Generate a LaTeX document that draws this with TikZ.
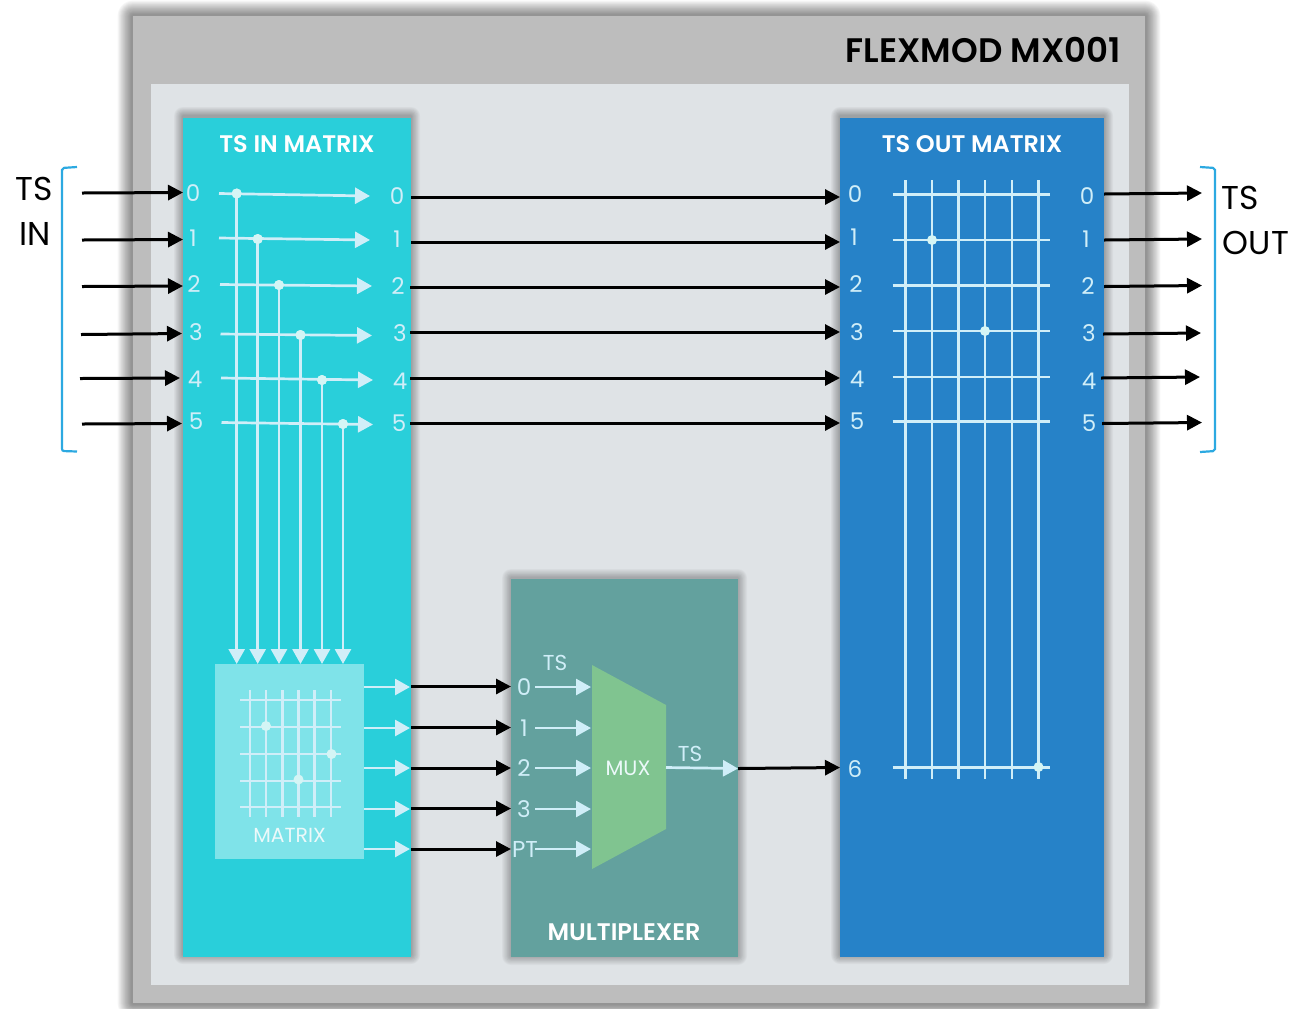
\documentclass[tikz,border=0pt]{standalone}
\usepackage{fontspec}
\setmainfont[BoldFont=Poppins SemiBold]{Poppins}
\usetikzlibrary{arrows.meta}
\definecolor{outerC}{HTML}{BDBDBD}
\definecolor{innerC}{HTML}{DFE3E6}
\definecolor{inC}{HTML}{29CFDA}
\definecolor{outC}{HTML}{2682C8}
\definecolor{muxC}{HTML}{63A19E}
\definecolor{trapC}{HTML}{80C490}
\definecolor{matC}{HTML}{7FE3E9}
\definecolor{paleC}{HTML}{D0EEF8}
\definecolor{dotC}{HTML}{D4F5F5}
\definecolor{brC}{HTML}{2CA9E1}
\definecolor{softW}{HTML}{ECF9FA}
% soft shadow: args x1,y1,x2,y2, layers, opacity, upward shift, base spread, step
\newcommand{\softbox}[9]{%
  \foreach \i in {1,...,#5}{
    \pgfmathsetmacro{\e}{#8+\i*#9}
    \fill[black,opacity=#6,rounded corners={\e*0.5pt}] ({#1-\e},{#2-\e-#7}) rectangle ({#3+\e},{#4+\e-#7});}}
\tikzset{
  palearrow/.style={draw=paleC,line width=1.35pt,-{Triangle[length=7.5pt,width=8pt]}},
  blackarrow/.style={draw=black,line width=1.5pt,-{Triangle[length=7.5pt,width=7.5pt]}},
  paleline/.style={draw=paleC,line width=1.25pt},
  dotmark/.style={circle,fill=dotC,inner sep=0pt,minimum size=5pt},
  numlabel/.style={text=paleC,font=\fontsize{11.5}{11.5}\selectfont,inner sep=0pt},
  smalllabel/.style={text=paleC,font=\fontsize{10.8}{10.8}\selectfont,inner sep=0pt},
  title/.style={text=white,font=\fontsize{12}{12}\selectfont\bfseries,inner sep=0pt},
  sidelabel/.style={text=black,font=\fontsize{16.5}{16.5}\selectfont,inner sep=0pt},
  blockbox/.style={inner sep=0pt,outer sep=0pt},
  bracket/.style={draw=brC,line width=1.1pt,rounded corners=1pt}
}
\begin{document}
\begin{tikzpicture}[x=0.5pt,y=-0.5pt]
\useasboundingbox (0,0) rectangle (1294,1008);
\fill[white] (0,0) rectangle (1294,1008);
% outer frames
\softbox{133}{16}{1145}{1003}{16}{0.03}{0}{1}{0.9}
\node[blockbox,fill=outerC,minimum width=506pt,minimum height=493.5pt] (outer) at (639,509.5) {};
\node[blockbox,fill=innerC,minimum width=489pt,minimum height=450.5pt] (inner) at (640,534.5) {};
% blocks
\softbox{183}{118}{411}{957}{10}{0.03}{2}{0}{0.9}
\softbox{511}{579}{738}{957}{10}{0.026}{1}{0}{0.9}
\softbox{840}{118}{1104}{957}{10}{0.03}{2}{0}{0.9}
\node[blockbox,fill=inC,minimum width=114pt,minimum height=419.5pt] (tsin) at (297,537.5) {};
\node[blockbox,fill=muxC,minimum width=113.5pt,minimum height=189pt] (muxblock) at (624.5,768) {};
\node[blockbox,fill=outC,minimum width=132pt,minimum height=419.5pt] (tsout) at (972,537.5) {};
\node[blockbox,fill=matC,minimum width=74.5pt,minimum height=97.5pt] (matbox) at (289.5,761.5) {};
% titles
\node[text=black,font=\fontsize{17}{17}\selectfont\bfseries,inner sep=0pt,anchor=east] (flexmod) at (1121,50) {FLEXMOD MX001};
\node[title] (intitle) at (297,144) {TS IN MATRIX};
\node[title] (outtitle) at (972,144) {TS OUT MATRIX};
\node[title] (muxtitle) at (624,932) {MULTIPLEXER};
% side labels
\node[sidelabel] (tsinA) at (34,189) {TS};
\node[sidelabel] (tsinB) at (35,234) {IN};
\node[sidelabel] (tsoutA) at (1240,198) {TS};
\node[sidelabel] (tsoutB) at (1256,243) {OUT};
% brackets
\draw[bracket] (77,167) -- (62,168) -- (62,451) -- (77,451.5);
\draw[bracket] (1200,167) -- (1215,168) -- (1215,451) -- (1200,452);
% TS IN rows
\foreach \n/\xa/\ya/\xb/\yb/\xd/\yd/\lx/\ly/\rx/\ry in {
  0/219/193.5/370/196/236.7/193.5/193/193/397/196,
  1/219/238/370/240/257.7/239/193/238/397/239,
  2/220/284.5/372/286/279/285/194/284/398/286,
  3/220.5/334/372/335.5/300.5/335/196/332/400/333,
  4/221/378/373/380/322/380/195/379/400/381,
  5/221.5/422.5/373/424.5/343/424/196/421/399/423}{
  \node[numlabel] (inL\n) at (\lx,\ly) {\n};
  \node[numlabel] (inR\n) at (\rx,\ry) {\n};
  \coordinate (rowS\n) at (\xa,\ya);
  \coordinate (rowE\n) at (\xb,\yb);
  \coordinate (colB\n) at (\xd,664);
  \node[dotmark] (rowD\n) at (\xd,\yd) {};
  \draw[palearrow] (rowS\n) -- (rowE\n);
  \draw[palearrow] (rowD\n.center) -- (colB\n);
}
\foreach \n in {0,...,5}{\node[dotmark] at (rowD\n) {};}
% matrix interior
\foreach \n/\y in {0/700,1/727,2/754,3/781,4/807}{
  \coordinate (mhS\n) at (240,\y); \coordinate (mhE\n) at (341,\y);
  \draw[paleline] (mhS\n) -- (mhE\n);}
\foreach \n/\x in {0/250,1/266,2/282.5,3/298.5,4/314.5,5/331}{
  \coordinate (mvS\n) at (\x,690); \coordinate (mvE\n) at (\x,817);
  \draw[paleline] (mvS\n) -- (mvE\n);}
\node[dotmark] (mdA) at (266,726) {};
\node[dotmark] (mdB) at (331.5,754) {};
\node[dotmark] (mdC) at (298.5,779.5) {};
\node[text=softW,font=\fontsize{10.2}{10.2}\selectfont,inner sep=0pt] (matlabel) at (289.5,835) {MATRIX};
% mux block
\fill[trapC] (592,665) -- (666,705) -- (666,829) -- (592,869) -- cycle;
\node[text=softW,font=\fontsize{10.4}{10.4}\selectfont,inner sep=0pt] (muxlabel) at (628,768) {MUX};
\node[smalllabel] (tsA) at (555,663) {TS};
\node[smalllabel] (tsB) at (690,754) {TS};
\foreach \n/\lab/\y/\lx/\ya in {0/0/687/524/686.5,1/1/728/524/727.5,2/2/768/524/768,3/3/809/524/808.5,4/PT/849/525/849}{
  \node[numlabel] (mxL\n) at (\lx,\y) {\lab};
  \coordinate (mxS\n) at (535,\y);
  \coordinate (mxE\n) at (591,\y);
  \coordinate (mtS\n) at (364,\y);
  \coordinate (mtE\n) at (410,\y);
  \coordinate (lnS\n) at (411,\ya);
  \coordinate (lnE\n) at (511,\ya);
  \draw[palearrow] (mxS\n) -- (mxE\n);
  \draw[palearrow] (mtS\n) -- (mtE\n);
  \draw[blackarrow] (lnS\n) -- (lnE\n);
}
\coordinate (muxOutS) at (666,767.5);
\coordinate (muxOutE) at (738,768.5);
\draw[palearrow] (muxOutS) -- (muxOutE);
% TS OUT grid
\foreach \n/\y in {0/194.7,1/240,2/285.5,3/331,4/377,5/421.5,6/767.5}{
  \coordinate (ohS\n) at (892.5,\y); \coordinate (ohE\n) at (1050,\y);
  \draw[paleline] (ohS\n) -- (ohE\n);}
\foreach \n/\x in {0/905.5,1/932,2/958.5,3/985,4/1012,5/1038.5}{
  \coordinate (ovS\n) at (\x,180); \coordinate (ovE\n) at (\x,779);
  \draw[paleline] (ovS\n) -- (ovE\n);}
\node[dotmark] (odA) at (932,240) {};
\node[dotmark] (odB) at (985,331) {};
\node[dotmark] (odC) at (1038.5,767) {};
% TS OUT labels
\foreach \n/\lx/\ly/\rx/\ry in {0/855/194/1087/196,1/854/237/1086/239,2/856/284/1088/286,3/857/332/1089/333,4/857/379/1089/381,5/857/421/1089/423}{
  \node[numlabel] (ouL\n) at (\lx,\ly) {\n};
  \node[numlabel] (ouR\n) at (\rx,\ry) {\n};
}
\node[numlabel] (ouL6) at (855,769) {6};
% black arrows
\foreach \n/\xa/\ya/\xb/\yb in {0/82/193/183/192.5,1/82/240/183/239.5,2/82/286.5/183/286,3/81/334.5/182/333.5,4/80/378.5/180/378,5/82/424/182/423.5}{
  \coordinate (srcI\n) at (\xa,\ya); \coordinate (dstI\n) at (\xb,\yb);
  \draw[blackarrow] (srcI\n) -- (dstI\n);}
\foreach \n/\xa/\ya/\xb/\yb in {0/411/197/840/197,1/411/242/840/242,2/410/287/840/287,3/410/332/840/332,4/410/378/840/378,5/410/423/840/423}{
  \coordinate (srcM\n) at (\xa,\ya); \coordinate (dstM\n) at (\xb,\yb);
  \draw[blackarrow] (srcM\n) -- (dstM\n);}
\foreach \n/\xa/\ya/\xb/\yb in {0/1104/194/1202/193,1/1104/240/1202/239,2/1104/286.5/1202/285.5,3/1103/334/1201/333,4/1101/378/1200/377,5/1102/423.5/1202/422.5}{
  \coordinate (srcO\n) at (\xa,\ya); \coordinate (dstO\n) at (\xb,\yb);
  \draw[blackarrow] (srcO\n) -- (dstO\n);}
\coordinate (sixS) at (738,768.5);
\coordinate (sixE) at (840,767.5);
\draw[blackarrow] (sixS) -- (sixE);
\end{tikzpicture}
\end{document}
